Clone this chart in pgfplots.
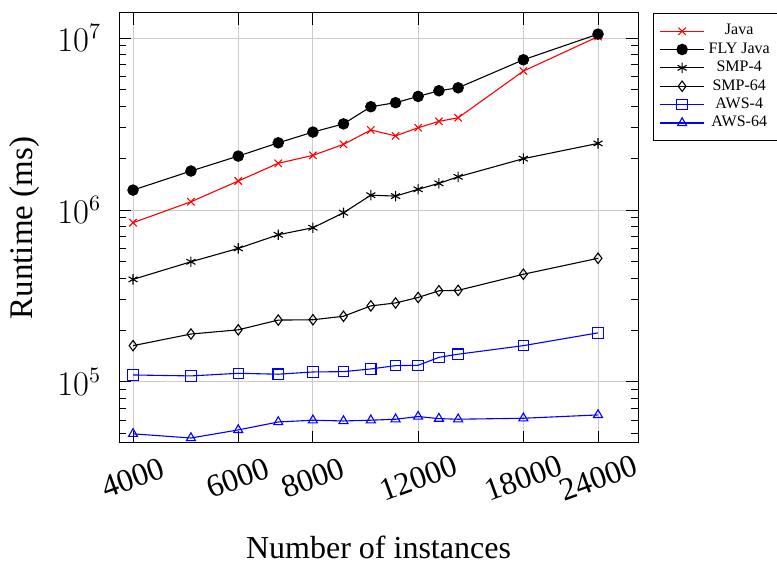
\documentclass[border=0pt]{standalone}
\usepackage{fontspec}
\setmainfont{Liberation Serif}
\usepackage{pgfplots}
\pgfplotsset{compat=1.18}
\begin{document}
\begin{tikzpicture}
\begin{axis}[
  name=ax,
  scale only axis,
  width=259.5pt, height=215pt,
  xmode=log, ymode=log,
  xmin=3790, xmax=28000,
  ymin=44150, ymax=1.4e7,
  xtick={4000,6000,8000,12000,18000,24000},
  xticklabels={4000,6000,8000,12000,18000,24000},
  minor xtick={},
  grid=major,
  major grid style={gray!40, line width=0.5pt},
  tick style={black, line width=0.5pt},
  major tick length=6pt,
  minor tick length=3.6pt,
  axis line style={line width=0.5pt},
  xticklabel style={font=\fontsize{16}{19}\selectfont, yshift=-17.5pt, rotate=20, anchor=center},
  yticklabel style={font=\fontsize{16}{19}\selectfont, xshift=-5.5pt},
  xlabel={Number of instances},
  ylabel={Runtime (ms)},
  xlabel style={font=\fontsize{16}{19}\selectfont, at={([yshift=-52pt]axis description cs:0.5,0)}, anchor=center},
  ylabel style={font=\fontsize{16.5}{20}\selectfont, at={([xshift=-47pt]axis description cs:0,0.5)}, anchor=center},
  every axis plot/.append style={line width=0.55pt, mark size=2.6pt},
  legend style={at={(1.029,1)}, anchor=north west, font=\fontsize{8}{9.5}\selectfont, draw=black, line width=0.5pt, row sep=-1.6pt, inner ysep=3.5pt, cells={align=center}},
  legend cell align=center,
  legend image code/.code={\draw[mark repeat=2,mark phase=2] plot coordinates {(0pt,0pt)(11pt,0pt)(22pt,0pt)};},
]
\addplot[red, mark=x, mark options={solid}] coordinates {
(4000,8.44e5)(5000,1.117e6)(6000,1.475e6)(7000,1.87e6)(8000,2.08e6)(9000,2.41e6)(10000,2.92e6)(11000,2.70e6)(12000,3.01e6)(13000,3.28e6)(14000,3.44e6)(18000,6.43e6)(24000,1.02e7)};
\addlegendentry{Java}
\addplot[black, mark=*] coordinates {
(4000,1.306e6)(5000,1.686e6)(6000,2.06e6)(7000,2.46e6)(8000,2.84e6)(9000,3.17e6)(10000,3.99e6)(11000,4.21e6)(12000,4.58e6)(13000,4.94e6)(14000,5.14e6)(18000,7.48e6)(24000,1.055e7)};
\addlegendentry{FLY Java}
\addplot[black, mark=asterisk] coordinates {
(4000,3.95e5)(5000,5.0e5)(6000,5.98e5)(7000,7.18e5)(8000,7.89e5)(9000,9.64e5)(10000,1.22e6)(11000,1.205e6)(12000,1.32e6)(13000,1.43e6)(14000,1.56e6)(18000,1.99e6)(24000,2.44e6)};
\addlegendentry{SMP-4}
\addplot[black, mark=diamond] coordinates {
(4000,1.626e5)(5000,1.90e5)(6000,2.01e5)(7000,2.29e5)(8000,2.30e5)(9000,2.41e5)(10000,2.77e5)(11000,2.88e5)(12000,3.10e5)(13000,3.39e5)(14000,3.41e5)(18000,4.23e5)(24000,5.24e5)};
\addlegendentry{SMP-64}
\addplot[blue, mark=square] coordinates {
(4000,1.098e5)(5000,1.084e5)(6000,1.123e5)(7000,1.109e5)(8000,1.143e5)(9000,1.148e5)(10000,1.19e5)(11000,1.244e5)(12000,1.25e5)(13000,1.39e5)(14000,1.45e5)(18000,1.626e5)(24000,1.93e5)};
\addlegendentry{AWS-4}
\addplot[blue, mark=triangle] coordinates {
(4000,4.99e4)(5000,4.72e4)(6000,5.26e4)(7000,5.85e4)(8000,5.99e4)(9000,5.93e4)(10000,5.99e4)(11000,6.07e4)(12000,6.29e4)(13000,6.12e4)(14000,6.07e4)(18000,6.15e4)(24000,6.43e4)};
\addlegendentry{AWS-64}
\end{axis}
\pgfresetboundingbox
\path[use as bounding box] ([shift={(-59.5pt,-59.5pt)}]ax.south west) rectangle ([shift={(69.5pt,6.5pt)}]ax.north east);
\end{tikzpicture}
\end{document}
